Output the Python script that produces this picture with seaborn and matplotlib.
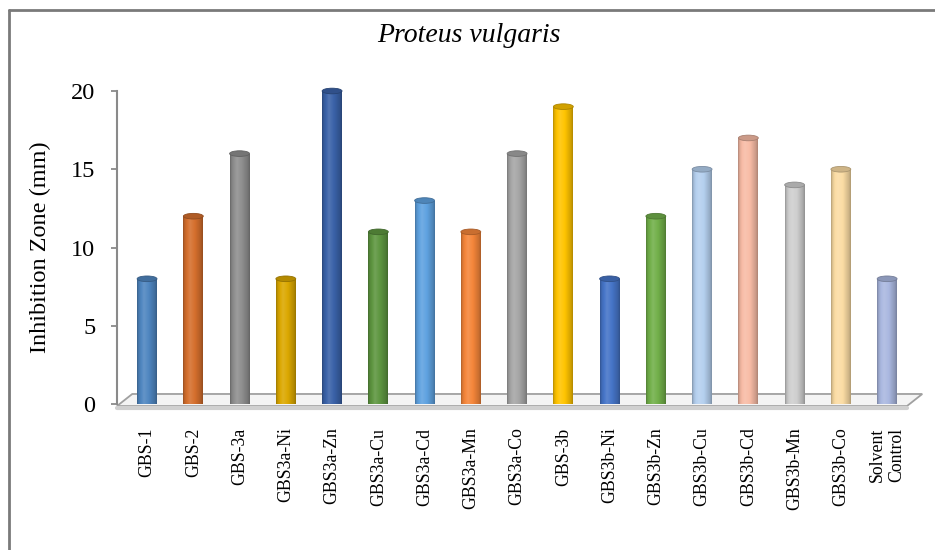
import numpy as np
import pandas as pd
import matplotlib
matplotlib.use("Agg")
import matplotlib.pyplot as plt
import matplotlib.colors as mcolors
from matplotlib.patches import Ellipse, Polygon
from matplotlib.lines import Line2D
import seaborn as sns

# Inhibition zone diameters (mm) against Proteus vulgaris
compounds = ["GBS-1", "GBS-2", "GBS-3a", "GBS3a-Ni", "GBS3a-Zn", "GBS3a-Cu",
             "GBS3a-Cd", "GBS3a-Mn", "GBS3a-Co", "GBS-3b", "GBS3b-Ni",
             "GBS3b-Zn", "GBS3b-Cu", "GBS3b-Cd", "GBS3b-Mn", "GBS3b-Co",
             "Solvent\nControl"]
zone_mm = [8, 12, 16, 8, 20, 11, 13, 11, 16, 19, 8, 12, 15, 17, 14, 15, 8]
bar_colors = ["#4f86c0", "#d56f2d", "#8f8f8f", "#dba800", "#3a62a8", "#5e9640",
              "#5fa2e0", "#f5863a", "#a6a6a6", "#ffc400", "#4675c8", "#72b04a",
              "#b5d0ef", "#f8bca6", "#cfcfcf", "#fbdca4", "#aab8e0"]
y_ticks = [0, 5, 10, 15, 20]

df = pd.DataFrame({"compound": compounds, "zone": zone_mm})

sns.set_theme(style="white")
plt.rcParams["font.family"] = ["Liberation Serif", "DejaVu Serif"]

fig = plt.figure(figsize=(9.35, 5.5), dpi=100)
ax = fig.add_axes([117 / 935, 146 / 550, 790 / 935, 313 / 550])

bar_w = 0.43
sns.barplot(data=df, x="compound", y="zone", hue="compound",
            palette=bar_colors, width=bar_w, saturation=1, legend=False,
            ax=ax, zorder=3)

XL = (-0.65, 16.43)
YL = (0, 20)

# 3-D style floor under the bars
depth_x, front_y, back_y = 0.33, -0.13, 0.64
floor = Polygon([(XL[0], front_y), (XL[0] + depth_x, back_y),
                 (XL[1] + depth_x, back_y), (XL[1], front_y)],
                closed=True, facecolor="#f4f4f4", edgecolor="#a0a0a0",
                linewidth=1.3, zorder=1, clip_on=False)
ax.add_patch(floor)
ax.add_line(Line2D([XL[0], XL[1]], [front_y - 0.12, front_y - 0.12],
                   color="#d0d0d0", linewidth=3, zorder=1, clip_on=False))


def shaded(rgb, f):
    rgb = np.asarray(rgb)
    if f >= 1:
        return rgb + (1 - rgb) * (f - 1)
    return rgb * f


# cylinder shading across each bar
t = np.linspace(0, 1, 64)
profile = np.interp(t, [0, 0.08, 0.35, 0.6, 0.9, 1], [0.72, 0.9, 1.12, 1.0, 0.82, 0.7])
ell_h = 0.36

for patch, col in zip(ax.patches[:len(compounds)], bar_colors):
    x0 = patch.get_x()
    w = patch.get_width()
    h = patch.get_height()
    base = np.array(mcolors.to_rgb(col))
    grad = np.array([[shaded(base, f) for f in profile]])
    grad = np.clip(grad, 0, 1)

    im = ax.imshow(grad, extent=(x0, x0 + w, 0, h), aspect="auto",
                   interpolation="bilinear", zorder=3.1)
    im.set_clip_path(patch)

    bottom = Ellipse((x0 + w / 2, 0), w, ell_h, facecolor="none",
                     edgecolor="none", zorder=3.05)
    ax.add_patch(bottom)
    im2 = ax.imshow(grad, extent=(x0, x0 + w, -ell_h / 2, 0), aspect="auto",
                    interpolation="bilinear", zorder=3.05)
    im2.set_clip_path(bottom)

    cap = Ellipse((x0 + w / 2, h), w, ell_h,
                  facecolor=shaded(base, 0.82), edgecolor=shaded(base, 0.68),
                  linewidth=0.6, zorder=3.3, clip_on=False)
    ax.add_patch(cap)
    patch.set_edgecolor("none")

ax.set_xlim(*XL)
ax.set_ylim(*YL)
ax.set_aspect("auto")

ax.set_yticks(y_ticks)
ax.tick_params(axis="y", which="major", left=True, length=4.5, width=1.3,
               color="#8a8a8a", labelsize=17.5, pad=11, labelcolor="black")
ax.tick_params(axis="x", which="major", bottom=False, length=0,
               labelsize=12.8, pad=17, labelcolor="black")
for lab in ax.get_xticklabels():
    lab.set_rotation(90)
    lab.set_va("top")
    lab.set_ha("center")
    lab.set_multialignment("center")

for side in ("top", "right", "bottom"):
    ax.spines[side].set_visible(False)
ax.spines["left"].set_color("#8a8a8a")
ax.spines["left"].set_linewidth(1.5)
ax.spines["left"].set_zorder(2)

ax.set_xlabel("")
ax.set_ylabel("Inhibition Zone (mm)", fontsize=17.5, color="black")
ax.yaxis.set_label_coords(-0.0835, 0.5)

fig.text(469 / 935, 1 - 35 / 550, "Proteus vulgaris", ha="center",
         va="center", fontsize=20, style="italic", color="black")

# chart frame
fig.add_artist(Line2D([9 / 935, 9 / 935], [0, 1 - 10 / 550], color="#7a7a7a",
                      linewidth=2, transform=fig.transFigure))
fig.add_artist(Line2D([9 / 935, 1], [1 - 10 / 550, 1 - 10 / 550],
                      color="#7a7a7a", linewidth=2, transform=fig.transFigure))

fig.savefig("out.png", dpi=100, facecolor="white")
